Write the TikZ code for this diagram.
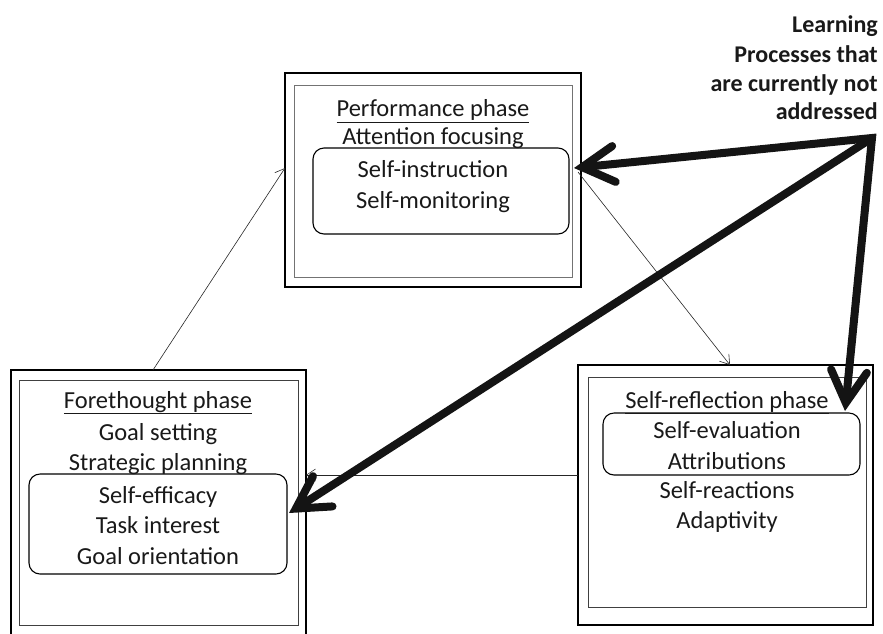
\documentclass[tikz,border=0pt]{standalone}
\usepackage{fontspec}
\setmainfont{Carlito}
\usetikzlibrary{arrows.meta}
\tikzset{
  outerbox/.style={draw=black, line width=1.8pt, minimum width=#1, inner sep=0pt},
  innerbox/.style={draw=black!75, line width=0.9pt, inner sep=0pt},
  roundbox/.style={draw=black, line width=1.1pt, rounded corners=11pt, inner sep=0pt},
  txt/.style={anchor=base, inner sep=0pt, font=\fontsize{24.5}{29}\selectfont, text=black!90},
  ttl/.style={anchor=base east, inner sep=0pt, font=\fontsize{24}{29}\selectfont\bfseries, text=black!90},
  thinarrow/.style={draw=black!85, line width=0.6pt, -{Straight Barb[length=9pt,width=12pt,line width=0.6pt]}},
  thickarrow/.style={draw=black!92, line width=8pt, line cap=round, line join=miter},
  bigtip/.tip={Straight Barb[length=32pt,width=36pt,line width=8pt,line cap=round]}
}
\begin{document}
\begin{tikzpicture}[x=1pt,y=-1pt]
\useasboundingbox (0,0) rectangle (883,633);
\clip (0,0) rectangle (883,633);
% Performance phase
\node[outerbox=296, minimum height=214] (perf) at (433,180) {};
\node[innerbox, draw=black!55, minimum width=278, minimum height=192] (perfin) at (433,181) {};
\node[roundbox, minimum width=256, minimum height=86] (perfr) at (441,191) {};
\node[txt] (p1) at (433,116.7) {\underline{Performance phase}};
\node[txt] (p2) at (433,144) {Attention focusing};
\node[txt] (p3) at (433,177) {Self-instruction};
\node[txt] (p4) at (433,208) {Self-monitoring};
% Forethought phase
\node[outerbox=295, minimum height=270] (fore) at (158.5,505) {};
\node[innerbox, minimum width=279, minimum height=245] (forein) at (158.5,502.5) {};
\node[roundbox, minimum width=258, minimum height=100] (forer) at (158,524) {};
\node[txt] (f1) at (158,408) {\underline{Forethought phase}};
\node[txt] (f2) at (158,440) {Goal setting};
\node[txt] (f3) at (158,470) {Strategic planning};
\node[txt] (f4) at (158,503) {Self-efficacy};
\node[txt] (f5) at (158,533) {Task interest};
\node[txt] (f6) at (158,564) {Goal orientation};
% Self-reflection phase
\node[outerbox=295, minimum height=260] (refl) at (725.5,495) {};
\node[innerbox, minimum width=278, minimum height=230] (reflin) at (727,492) {};
\node[roundbox, minimum width=257, minimum height=62] (reflr) at (731.5,444) {};
\node[txt] (r1) at (727,408) {\underline{Self-reflection phase}};
\node[txt] (r2) at (727,438) {Self-evaluation};
\node[txt] (r3) at (727,469) {Attributions};
\node[txt] (r4) at (727,498) {Self-reactions};
\node[txt] (r5) at (727,528) {Adaptivity};
% Title
\node[ttl] (t1) at (878,32) {Learning};
\node[ttl] (t2) at (878,62) {Processes that};
\node[ttl] (t3) at (878,91) {are currently not};
\node[ttl] (t4) at (878,119) {addressed};
% connector end points
\coordinate (foreTop) at (153,370);
\coordinate (perfLeft) at (285,168);
\coordinate (perfRight) at (578,172);
\coordinate (reflTop) at (730,365);
\coordinate (reflLeft) at (578,475);
\coordinate (foreRight) at (306,475);
\coordinate (src) at (872,138);
\coordinate (tipP) at (574,168);
\coordinate (tipF) at (289,513);
\coordinate (tipR) at (845,411);
% thin cycle arrows
\draw[thinarrow] (foreTop) -- (perfLeft);
\draw[thinarrow] (perfRight) -- (reflTop);
\draw[thinarrow] (reflLeft) -- (foreRight);
% thick arrows
\draw[thickarrow, bigtip-bigtip] (tipP) -- (src) -- (tipR);
\draw[thickarrow, -bigtip] (src) -- (tipF);
\end{tikzpicture}
\end{document}
